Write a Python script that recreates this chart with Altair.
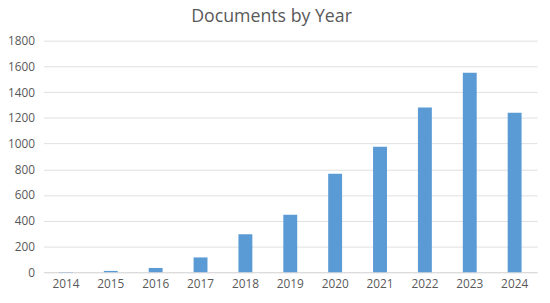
import altair as alt
import pandas as pd

years = ["2014", "2015", "2016", "2017", "2018", "2019", "2020", "2021", "2022", "2023", "2024"]
docs = [1, 10, 33, 115, 295, 447, 765, 975, 1280, 1550, 1240]

df = pd.DataFrame({"Year": years, "Documents": docs})

chart = alt.Chart(df).mark_bar(color="#5b9bd5").encode(
    x=alt.X("Year:N", sort=years, title=None,
            scale=alt.Scale(paddingInner=0.69, paddingOuter=0.345),
            axis=alt.Axis(labelAngle=0, ticks=False, domainColor="#d9d9d9",
                          labelColor="#595959", labelFont="Open Sans", labelFontSize=12,
                          labelPadding=7)),
    y=alt.Y("Documents:Q", title=None,
            scale=alt.Scale(domain=[0, 1800]),
            axis=alt.Axis(values=list(range(0, 1801, 200)), ticks=False, domain=False,
                          format="d",
                          gridColor="#e0e0e0", labelColor="#595959", labelFont="Open Sans",
                          labelFontSize=12, labelPadding=9)),
).properties(
    width=501, height=235,
    title=alt.TitleParams("Documents by Year", font="Open Sans", fontSize=18,
                          fontWeight="normal", color="#595959", anchor="middle",
                          offset=9, dx=-19),
    autosize=alt.AutoSizeParams(type="none"),
    padding={"left": 36, "top": 31, "right": 5, "bottom": 22},
).configure_view(stroke=None)

chart.save("out.html", embed_options={"renderer": "svg", "actions": False})
